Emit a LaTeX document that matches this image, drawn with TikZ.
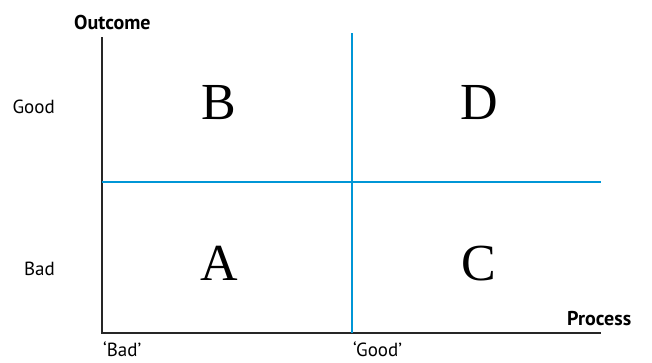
\documentclass[tikz,border=0pt]{standalone}
\usepackage{fontspec}
\setsansfont{PT Sans}
\newfontfamily\letterfont{Liberation Serif}
\usepackage{xcolor}
\usepackage{tikz}
\usetikzlibrary{positioning}
\definecolor{gridblue}{RGB}{0,150,214}
\tikzset{
  axisline/.style={draw=black!85, line width=1.2pt},
  splitline/.style={draw=gridblue, line width=2.4pt},
  axislabel/.style={font=\sffamily\fontsize{19}{21}\selectfont, inner sep=0pt},
  axistitle/.style={font=\sffamily\bfseries\fontsize{20}{22}\selectfont, inner sep=0pt},
  quadrant/.style={font=\letterfont\fontsize{52}{54}\selectfont, inner sep=0pt, anchor=base}
}
\begin{document}
\begin{tikzpicture}[x=1pt,y=-1pt]
        \useasboundingbox (0,0) rectangle (652,362);
        % axes
        \coordinate (origin) at (102,333);
        \coordinate (ytop) at (102,37);
        \coordinate (xend) at (601,333);
        \draw[axisline] (ytop) -- (origin) -- (xend);
        % quadrant split lines
        \coordinate (vtop) at (352,33);
        \coordinate (vbot) at (352,333);
        \coordinate (hleft) at (102,182);
        \coordinate (hright) at (601,182);
        \draw[splitline] (vtop) -- (vbot);
        \draw[splitline] (hleft) -- (hright);
        % axis titles
        \node[axistitle, anchor=base west] (outcome) at (74,29) {Outcome};
        \node[axistitle, anchor=base west] (process) at (567,325) {Process};
        % tick labels
        \node[axislabel, anchor=base east] (ygood) at (55,113) {Good};
        \node[axislabel, anchor=base east] (ybad) at (55,275) {Bad};
        \node[axislabel, anchor=base west] (xbad) at (103,356) {‘Bad’};
        \node[axislabel, anchor=base west] (xgood) at (353,356) {‘Good’};
        % quadrants
        \node[quadrant] (qB) at (219,119) {B};
        \node[quadrant] (qD) at (479,119) {D};
        \node[quadrant] (qA) at (219,280) {A};
        \node[quadrant] (qC) at (479,280) {C};
    \end{tikzpicture}
\end{document}
